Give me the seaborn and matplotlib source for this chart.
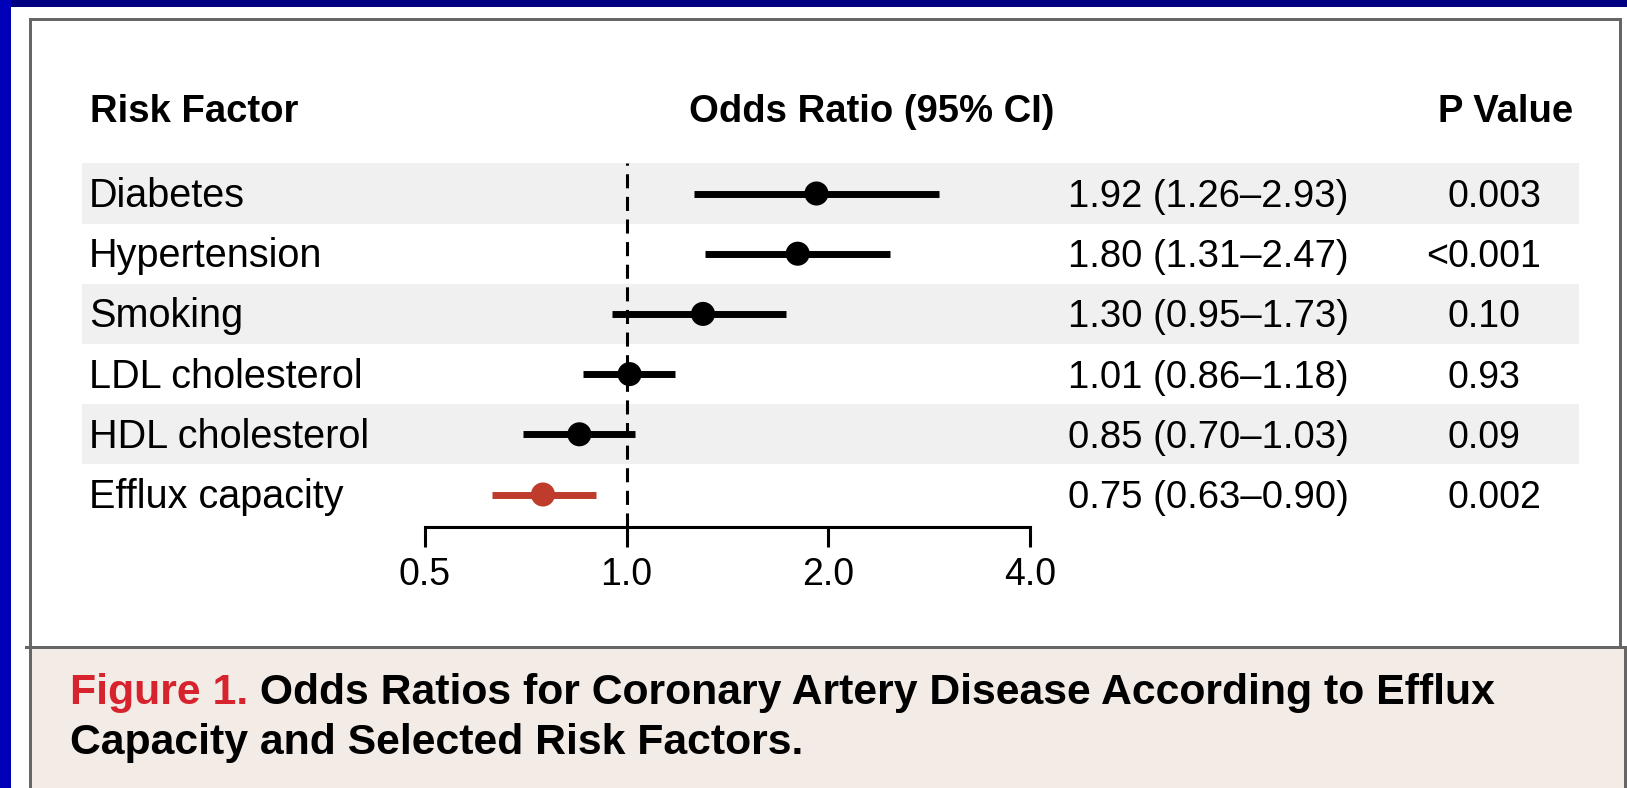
import matplotlib
matplotlib.use("Agg")
import matplotlib.pyplot as plt
import matplotlib.transforms as mtransforms
from matplotlib.patches import Rectangle
from matplotlib.ticker import FixedLocator, FixedFormatter, NullLocator
from matplotlib import font_manager as fm
import seaborn as sns
import pandas as pd

# ---------------- data ----------------
factors = ["Diabetes", "Hypertension", "Smoking", "LDL cholesterol",
           "HDL cholesterol", "Efflux capacity"]
odds_ratio = [1.92, 1.80, 1.30, 1.01, 0.85, 0.75]
ci_low = [1.26, 1.31, 0.95, 0.86, 0.70, 0.63]
ci_high = [2.93, 2.47, 1.73, 1.18, 1.03, 0.90]
or_text = ["1.92 (1.26\u20132.93)", "1.80 (1.31\u20132.47)", "1.30 (0.95\u20131.73)",
           "1.01 (0.86\u20131.18)", "0.85 (0.70\u20131.03)", "0.75 (0.63\u20130.90)"]
p_values = ["0.003", "<0.001", "0.10", "0.93", "0.09", "0.002"]
x_ticks = [0.5, 1.0, 2.0, 4.0]
x_tick_labels = ["0.5", "1.0", "2.0", "4.0"]
headers = ["Risk Factor", "Odds Ratio (95% CI)", "P Value"]
caption_lead = "Figure 1."
caption_line1 = " Odds Ratios for Coronary Artery Disease According to Efflux"
caption_line2 = "Capacity and Selected Risk Factors."

# ---------------- style ----------------
sns.set_theme(style="white")
names = {f.name for f in fm.fontManager.ttflist}
main_font = "Liberation Sans" if "Liberation Sans" in names else "DejaVu Sans"
cap_font = "Liberation Sans Narrow" if "Liberation Sans Narrow" in names else main_font
plt.rcParams["font.family"] = [main_font, "DejaVu Sans"]

W, H = 1627, 788
fig = plt.figure(figsize=(W / 100, H / 100), dpi=100)
fig.patch.set_facecolor("white")

# background axes in pixel coordinates (y down)
bg = fig.add_axes([0, 0, 1, 1])
bg.set_xlim(0, W)
bg.set_ylim(H, 0)
bg.axis("off")

gray = "#666666"
# blue frame
bg.add_patch(Rectangle((0, 0), W, 7, color="#000080", lw=0))
bg.add_patch(Rectangle((0, 0), 11, H, color="#0000B8", lw=0))
# caption box
bg.add_patch(Rectangle((31, 648), 1594, H - 648, color="#F2EBE6", lw=0))
# panel borders
bg.add_patch(Rectangle((29, 18), 3, H - 18, color=gray, lw=0))
bg.add_patch(Rectangle((29, 18), 1592, 3, color=gray, lw=0))
bg.add_patch(Rectangle((1619, 18), 3, 630, color=gray, lw=0))
bg.add_patch(Rectangle((1624, 646), 3, H - 646, color=gray, lw=0))
bg.add_patch(Rectangle((25, 646), 1602, 3, color=gray, lw=0))

# headers
hdr_kw = dict(fontsize=27.5, fontweight="bold", color="black", va="baseline")
bg.text(90, 122, headers[0], ha="left", **hdr_kw)
bg.text(872, 122, headers[1], ha="center", **hdr_kw)
bg.text(1506, 122, headers[2], ha="center", **hdr_kw)

# caption
cap_size = 30.8
cap_kw = dict(fontsize=cap_size, fontweight="bold", family=[cap_font, "DejaVu Sans"], va="baseline")
t1 = bg.text(70, 704, caption_lead, color="#D7232D", ha="left", **cap_kw)
bg.annotate(caption_line1, xy=(1, 0), xycoords=t1, ha="left", va="bottom",
            color="black", fontsize=cap_size, fontweight="bold", family=[cap_font, "DejaVu Sans"])
bg.text(70, 754, caption_line2, color="black", ha="left", **cap_kw)

# ---------------- forest axes ----------------
x_left, x_right = 425, 1030
y_top, y_bottom = 163.4, 527
row_h = 60.2
ax = fig.add_axes([x_left / W, 1 - y_bottom / H, (x_right - x_left) / W, (y_bottom - y_top) / H])
ax.set_facecolor("none")

n = len(factors)
pos = list(range(n))
df = pd.DataFrame({"factor": factors, "or": odds_ratio, "lo": ci_low,
                   "hi": ci_high, "pos": pos})
colors = ["black"] * (n - 1) + ["#BF3B2B"]
palette = dict(zip(factors, colors))

ax.set_xscale("log", base=2)
ax.set_xlim(x_ticks[0], x_ticks[-1])
ax.set_ylim(pos[-1] + 0.5 + (y_bottom - y_top - n * row_h) / row_h, -0.5)

# alternating row bands
bx0 = (82 - x_left) / (x_right - x_left)
bx1 = (1579 - x_left) / (x_right - x_left)
for i in pos:
    if i % 2 == 0:
        ax.axhspan(i - 0.5, i + 0.5, xmin=bx0, xmax=bx1, color="#F0F0F0",
                   lw=0, zorder=0, clip_on=False)

ax.axvline(1.0, color="black", lw=2.2, dashes=(4.6, 2.8), zorder=2)
ax.hlines(df["pos"], df["lo"], df["hi"], colors=colors, lw=5.0, zorder=3)
sns.scatterplot(data=df, x="or", y="pos", hue="factor", palette=palette, s=300,
                linewidth=0, legend=False, ax=ax, zorder=4)

# axis styling
for side in ["top", "left", "right"]:
    ax.spines[side].set_visible(False)
ax.spines["bottom"].set_color("black")
ax.spines["bottom"].set_linewidth(2.2)
ax.xaxis.set_major_locator(FixedLocator(x_ticks))
ax.xaxis.set_major_formatter(FixedFormatter(x_tick_labels))
ax.xaxis.set_minor_locator(NullLocator())
ax.tick_params(axis="x", bottom=True, length=14.4, width=2.2, color="black",
               pad=7, labelsize=27, labelcolor="black")
ax.set_yticks([])
ax.set_xlabel("")
ax.set_ylabel("")

# table texts (x in pixel coords, y in row units)
tr = mtransforms.blended_transform_factory(bg.transData, ax.transData)
base_off = 0.225
txt_kw = dict(color="black", va="baseline", transform=tr, clip_on=False, zorder=5)
for i in pos:
    y = i + base_off
    ax.text(89, y, factors[i], ha="left", fontsize=28.5, **txt_kw)
    ax.text(1068, y, or_text[i], ha="left", fontsize=27.5, **txt_kw)
    p = p_values[i]
    if p.startswith("<"):
        ax.text(1448, y, "<", ha="right", fontsize=27, **txt_kw)
        p = p[1:]
    ax.text(1448, y, p, ha="left", fontsize=27, **txt_kw)

fig.savefig("out.png", dpi=100, facecolor=fig.get_facecolor())
